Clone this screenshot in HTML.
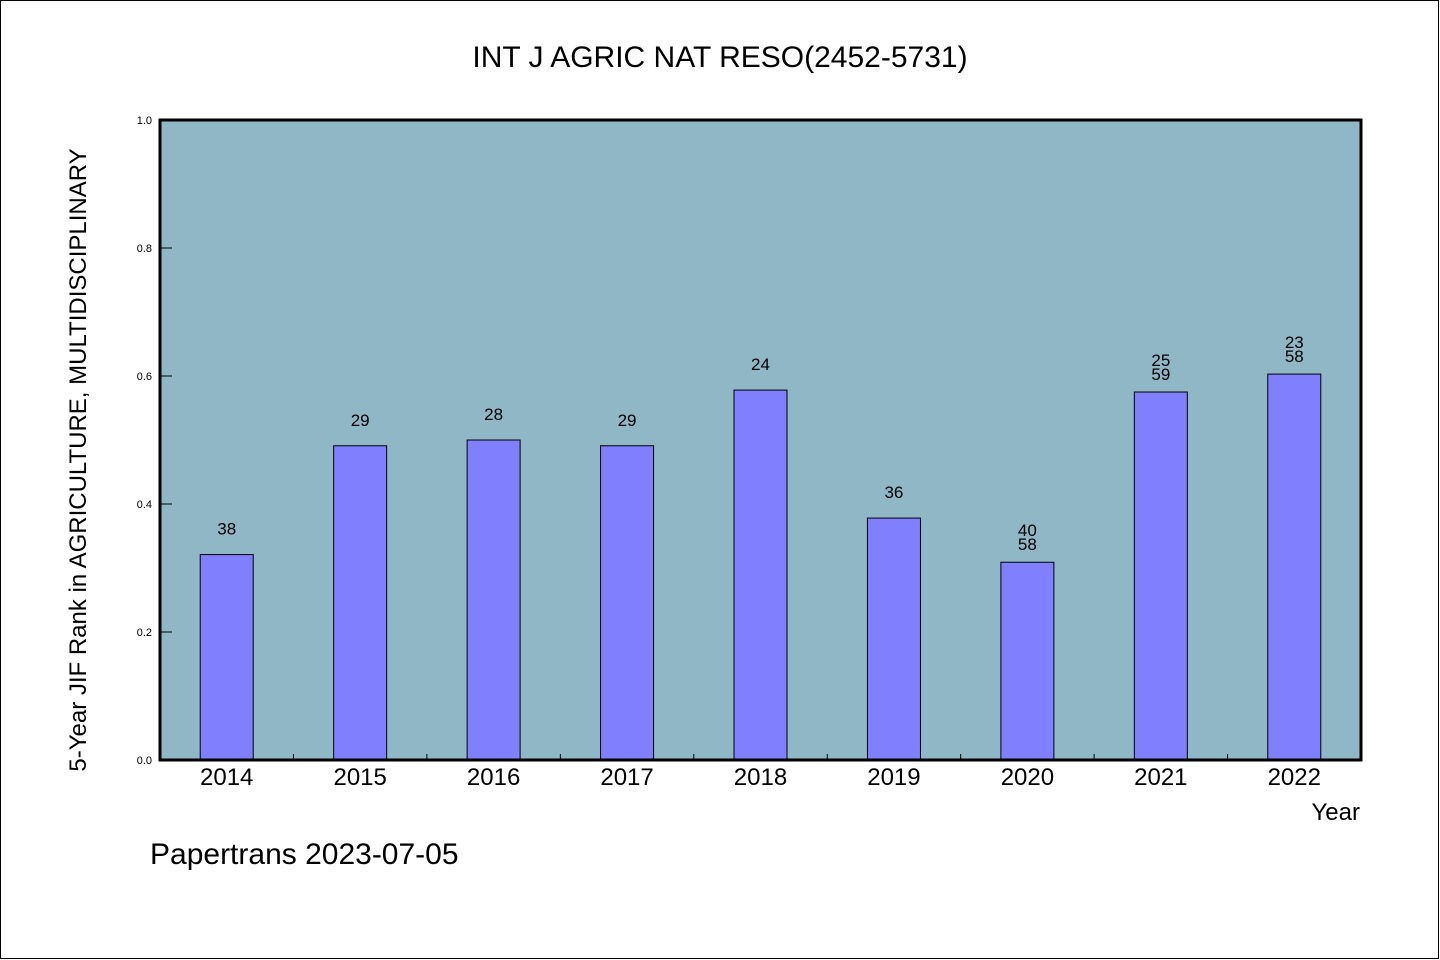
<!DOCTYPE html>
<html><head><meta charset="utf-8"><style>
html,body{margin:0;padding:0;background:#fff}
svg{display:block}
text{font-family:"WenQuanYi Zen Hei","Liberation Sans",sans-serif;fill:#000}
</style></head><body>
<svg id="chart" width="1440" height="960" viewBox="0 0 1440 960" xmlns="http://www.w3.org/2000/svg">
<rect x="0.5" y="0.5" width="1438" height="958" fill="#fff" stroke="#000" stroke-width="1"/>
<text x="720" y="67" font-size="30" text-anchor="middle">INT J AGRIC NAT RESO(2452-5731)</text>
<rect x="160" y="120" width="1201" height="640" fill="#8fb7c6"/>
<g id="bars"></g>
<g id="axes"></g>
<rect x="160" y="120" width="1201" height="640" fill="none" stroke="#000" stroke-width="3"/>
<text transform="translate(86,460) rotate(-90)" font-size="24" text-anchor="middle">5-Year JIF Rank in AGRICULTURE, MULTIDISCIPLINARY</text>
<text x="1360" y="820" font-size="24" text-anchor="end">Year</text>
<text x="150" y="864" font-size="30">Papertrans 2023-07-05</text>
</svg>
<script>
const categories=["2014","2015","2016","2017","2018","2019","2020","2021","2022"];
const values=[0.321,0.491,0.5,0.491,0.578,0.378,0.309,0.575,0.603];
const labelTop=["38","29","28","29","24","36","40","25","23"];
const labelBottom=["","","","","","","58","59","58"];
const yTicks=[0,0.2,0.4,0.6,0.8,1.0];
const yTickLabels=["0.0","0.2","0.4","0.6","0.8","1.0"];
const NS="http://www.w3.org/2000/svg";
const X0=160,X1=1361,Y0=760,Y1=120;
const band=(X1-X0)/categories.length;
function xc(i){return X0+band*(i+0.5);}
function y(v){return Y0-(Y0-Y1)*v;}
function mk(tag,attrs,parent){const e=document.createElementNS(NS,tag);for(const k in attrs)e.setAttribute(k,attrs[k]);parent.appendChild(e);return e;}
const bars=document.getElementById('bars'),axes=document.getElementById('axes');
const bw=53;
categories.forEach((c,i)=>{
  const r=mk('rect',{x:xc(i)-bw/2,y:y(values[i]),width:bw,height:Y0-y(values[i]),fill:'#8080ff',stroke:'#000','stroke-width':1},bars);
  
  
  const top=y(values[i]);
  if(labelBottom[i]){
    const t1=mk('text',{x:xc(i),y:top-26,'font-size':17,'text-anchor':'middle'},bars);t1.textContent=labelTop[i];
    
    
    const t2=mk('text',{x:xc(i),y:top-12,'font-size':17,'text-anchor':'middle'},bars);t2.textContent=labelBottom[i];
    
    
  }else{
    const t=mk('text',{x:xc(i),y:top-20,'font-size':17,'text-anchor':'middle'},bars);t.textContent=labelTop[i];
    
    
  }
  const xl=mk('text',{x:xc(i),y:785,'font-size':24,'text-anchor':'middle'},axes);xl.textContent=c;
  
  
  if(i>0){const tk=mk('line',{x1:X0+band*i,x2:X0+band*i,y1:Y0-6,y2:Y0,stroke:'#000','stroke-width':1},axes);
    
    }
});
yTicks.forEach((v,i)=>{
  const tk=mk('line',{x1:X0,x2:X0+12,y1:y(v),y2:y(v),stroke:'#000','stroke-width':1},axes);
  
  
  const t=mk('text',{x:152,y:y(v)+4,'font-size':11,'text-anchor':'end'},axes);t.textContent=yTickLabels[i];
  
  
});
</script>
</body></html>
